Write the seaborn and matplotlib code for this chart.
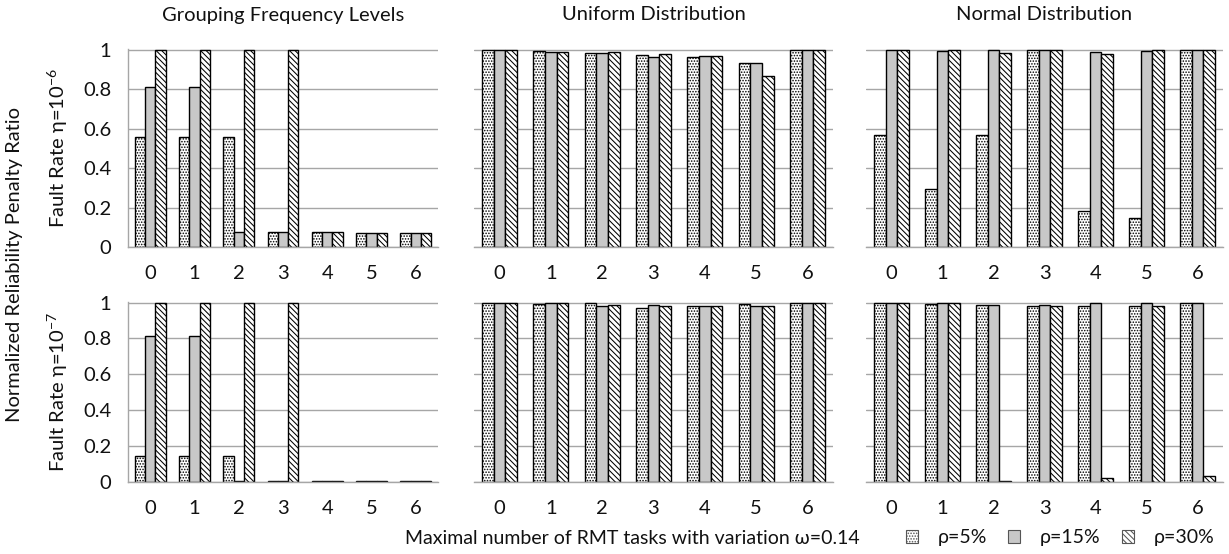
import matplotlib
matplotlib.use("Agg")
import matplotlib.pyplot as plt
import numpy as np
import pandas as pd
import seaborn as sns
from matplotlib.patches import Patch
from matplotlib.ticker import FixedLocator, NullFormatter

# ---- data -------------------------------------------------------------
levels = [0, 1, 2, 3, 4, 5, 6]
rho_labels = ["ρ=5%", "ρ=15%", "ρ=30%"]
panel_titles = ["Grouping Frequency Levels", "Uniform Distribution", "Normal Distribution"]
row_labels = ["Fault Rate η=10$^{-6}$", "Fault Rate η=10$^{-7}$"]
y_ticks = [0, 0.2, 0.4, 0.6, 0.8, 1]
y_tick_labels = ["0", "0.2", "0.4", "0.6", "0.8", "1"]

# fault rate 1e-6
grouping_e6_rho5 = [0.555, 0.555, 0.555, 0.076, 0.076, 0.071, 0.071]
grouping_e6_rho15 = [0.812, 0.812, 0.074, 0.074, 0.074, 0.071, 0.071]
grouping_e6_rho30 = [1.0, 1.0, 1.0, 1.0, 0.074, 0.071, 0.071]

uniform_e6_rho5 = [1.0, 0.993, 0.982, 0.975, 0.960, 0.930, 1.0]
uniform_e6_rho15 = [1.0, 0.990, 0.985, 0.962, 0.967, 0.930, 1.0]
uniform_e6_rho30 = [1.0, 0.990, 0.987, 0.978, 0.970, 0.867, 1.0]

normal_e6_rho5 = [0.568, 0.294, 0.568, 1.0, 0.184, 0.145, 1.0]
normal_e6_rho15 = [1.0, 0.992, 1.0, 1.0, 0.987, 0.992, 1.0]
normal_e6_rho30 = [1.0, 1.0, 0.982, 1.0, 0.977, 1.0, 1.0]

# fault rate 1e-7
grouping_e7_rho5 = [0.145, 0.145, 0.145, 0.007, 0.007, 0.007, 0.007]
grouping_e7_rho15 = [0.816, 0.816, 0.007, 0.007, 0.007, 0.007, 0.007]
grouping_e7_rho30 = [1.0, 1.0, 1.0, 1.0, 0.007, 0.007, 0.007]

uniform_e7_rho5 = [1.0, 0.991, 0.996, 0.971, 0.983, 0.991, 1.0]
uniform_e7_rho15 = [1.0, 0.996, 0.980, 0.985, 0.983, 0.980, 1.0]
uniform_e7_rho30 = [1.0, 0.996, 0.985, 0.980, 0.983, 0.980, 1.0]

normal_e7_rho5 = [1.0, 0.991, 0.989, 0.983, 0.983, 0.980, 1.0]
normal_e7_rho15 = [0.996, 0.996, 0.989, 0.989, 1.0, 1.0, 1.0]
normal_e7_rho30 = [1.0, 0.996, 0.004, 0.983, 0.022, 0.980, 0.033]

panels = [
    [(grouping_e6_rho5, grouping_e6_rho15, grouping_e6_rho30),
     (uniform_e6_rho5, uniform_e6_rho15, uniform_e6_rho30),
     (normal_e6_rho5, normal_e6_rho15, normal_e6_rho30)],
    [(grouping_e7_rho5, grouping_e7_rho15, grouping_e7_rho30),
     (uniform_e7_rho5, uniform_e7_rho15, uniform_e7_rho30),
     (normal_e7_rho5, normal_e7_rho15, normal_e7_rho30)],
]

# ---- style ------------------------------------------------------------
sns.set_theme(style="white")
plt.rcParams["font.family"] = ["Lato", "DejaVu Sans"]
plt.rcParams["mathtext.fontset"] = "custom"
plt.rcParams["mathtext.rm"] = "Lato"
plt.rcParams["mathtext.it"] = "Lato:italic"
plt.rcParams["hatch.linewidth"] = 0.75
FS = 14.5
FS_SMALL = 14
TXT = "#111111"
GRID = "#a6a6a6"
fills = ["white", "#c8c8c8", "white"]
hatches = ["......", None, "\\\\\\\\\\\\"]

W, H = 1229, 554
fig = plt.figure(figsize=(W / 100, H / 100), dpi=100)

# axes boxes in pixel units: (left, right) per column, (top, bottom) per row
cols = [(128, 438), (474, 833), (866, 1223)]
rows = [(49, 247), (302, 482)]
widths = [0.70, 0.68, 0.68]


def frac_box(c, r):
    x0, x1 = c
    y0, y1 = r
    return [x0 / W, 1 - y1 / H, (x1 - x0) / W, (y1 - y0) / H]


for ri, row in enumerate(panels):
    for ci, series in enumerate(row):
        ax = fig.add_axes(frac_box(cols[ci], rows[ri]))
        df = pd.DataFrame({
            "level": np.tile(levels, 3),
            "rho": np.repeat(rho_labels, len(levels)),
            "ratio": np.concatenate(series),
        })
        sns.barplot(data=df, x="level", y="ratio", hue="rho", hue_order=rho_labels,
                    palette=fills, width=widths[ci], gap=0, edgecolor="black",
                    linewidth=1.0, legend=False, ax=ax, errorbar=None)
        for cont, hatch in zip(ax.containers, hatches):
            for bar in cont:
                if hatch:
                    bar.set_hatch(hatch)
        ax.set_xlim(-0.5, 6.5)
        ax.set_ylim(0, 1.003)
        ax.set_xlabel("")
        ax.set_ylabel("")
        ax.set_axisbelow(True)
        ax.yaxis.grid(True, color=GRID, lw=1.0)
        ax.set_yticks(y_ticks)
        for s in ["top", "right"]:
            ax.spines[s].set_visible(False)
        ax.spines["bottom"].set_color(GRID)
        ax.spines["bottom"].set_linewidth(1.0)
        # category labels centred, tick marks on the category boundaries
        ax.set_xticks(range(len(levels)))
        ax.set_xticklabels([str(v) for v in levels], fontsize=FS, color=TXT)
        ax.xaxis.set_minor_locator(FixedLocator(np.arange(-0.5, 7, 1.0)))
        ax.xaxis.set_minor_formatter(NullFormatter())
        ax.tick_params(axis="x", which="major", length=0, pad=13)
        ax.tick_params(axis="x", which="minor", length=4, width=1, color=GRID, direction="out")
        if ci == 0:
            ax.spines["left"].set_color(GRID)
            ax.spines["left"].set_linewidth(1.0)
            ax.set_yticklabels(y_tick_labels, fontsize=FS, color=TXT)
            ax.tick_params(axis="y", length=4, width=1, color=GRID, pad=8)
        else:
            ax.spines["left"].set_visible(False)
            ax.tick_params(axis="y", length=0, labelleft=False)
        if ri == 0:
            fig.text((cols[ci][0] + cols[ci][1]) / 2 / W, 1 - 15 / H, panel_titles[ci],
                     ha="center", va="center", fontsize=FS, color=TXT)

# row and figure labels
for ri, lab in enumerate(row_labels):
    yc = (rows[ri][0] + rows[ri][1]) / 2
    fig.text(58 / W, 1 - yc / H, lab, rotation=90, ha="center", va="center",
             fontsize=FS, color=TXT)
fig.text(15 / W, 1 - 265 / H, "Normalized Reliability Penalty Ratio", rotation=90,
         ha="center", va="center", fontsize=FS, color=TXT)
fig.text(632 / W, 1 - 538 / H, "Maximal number of RMT tasks with variation ω=0.14",
         ha="center", va="center", fontsize=FS_SMALL, color=TXT)

handles = [Patch(facecolor=f, edgecolor="#555555", hatch=h, linewidth=0.8)
           for f, h in zip(fills, hatches)]
fig.legend(handles, rho_labels, loc="center left", bbox_to_anchor=(906 / W, 1 - 538 / H),
           ncol=3, frameon=False, fontsize=FS_SMALL, handlelength=0.62, handleheight=0.62,
           handletextpad=1.0, columnspacing=1.1, borderpad=0, borderaxespad=0,
           labelcolor=TXT)

fig.savefig("out.png", dpi=100)
